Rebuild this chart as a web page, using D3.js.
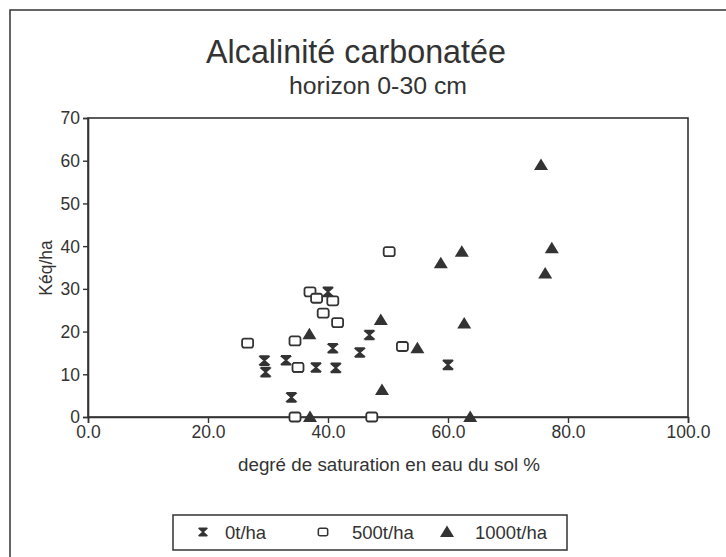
<!DOCTYPE html>
<html>
<head>
<meta charset="utf-8">
<script src="https://cdn.jsdelivr.net/npm/d3@7"></script>
<style>
  html, body { margin: 0; padding: 0; background: #fff; }
  svg { display: block; }
  text { font-family: "Liberation Sans", Arial, Helvetica, sans-serif; fill: #333; }
</style>
</head>
<body>
<svg id="chart" width="726" height="557"></svg>
<script>
// Degree of water saturation (%) and carbonate alkalinity (Kéq/ha), per treatment
const series0X = [29.4, 29.6, 33.0, 33.9, 35.0, 38.0, 40.0, 40.8, 41.3, 45.3, 46.9, 60.0];
const series0Y = [13.2, 10.5, 13.3, 4.6, 11.6, 11.6, 29.3, 16.1, 11.5, 15.1, 19.2, 12.2];

const series500X = [26.6, 34.5, 35.0, 34.5, 37.0, 38.1, 39.2, 40.8, 41.6, 47.3, 50.2, 52.4];
const series500Y = [17.3, 17.8, 11.6, 0.0, 29.3, 27.8, 24.3, 27.2, 22.1, 0.0, 38.7, 16.5];

const series1000X = [36.9, 37.0, 48.8, 49.0, 54.9, 58.8, 62.3, 62.7, 63.7, 75.5, 76.2, 77.3];
const series1000Y = [19.4, 0.0, 22.7, 6.3, 16.1, 36.0, 38.7, 21.9, 0.0, 59.0, 33.6, 39.5];

const seriesNames = ["0t/ha", "500t/ha", "1000t/ha"];
const xTicks = [0, 20, 40, 60, 80, 100];
const yTicks = [0, 10, 20, 30, 40, 50, 60, 70];

const ink = "#333";
const svg = d3.select("#chart");

// outer frame (left and top edges)
svg.append("path")
  .attr("d", "M10,557 L10,10 L726,10")
  .attr("fill", "none").attr("stroke", ink).attr("stroke-width", 1.5);

// titles
svg.append("text").attr("x", 356).attr("y", 63).attr("text-anchor", "middle")
  .attr("font-size", 34).attr("textLength", 300).attr("lengthAdjust", "spacingAndGlyphs")
  .text("Alcalinité carbonatée");
svg.append("text").attr("x", 378).attr("y", 94).attr("text-anchor", "middle")
  .attr("font-size", 23).attr("textLength", 178).attr("lengthAdjust", "spacingAndGlyphs")
  .text("horizon 0-30 cm");

// scales
const x = d3.scaleLinear().domain([0, 100]).range([88, 688]);
const y = d3.scaleLinear().domain([0, 70]).range([417, 118]);

// plot frame
svg.append("rect")
  .attr("x", x(0)).attr("y", y(70))
  .attr("width", x(100) - x(0)).attr("height", y(0) - y(70))
  .attr("fill", "none").attr("stroke", ink).attr("stroke-width", 1.6);

// axes
const xAxis = svg.append("g").attr("transform", `translate(0,${y(0)})`)
  .call(d3.axisBottom(x).tickValues(xTicks).tickFormat(d3.format(".1f")).tickSize(6).tickPadding(3));
const yAxis = svg.append("g").attr("transform", `translate(${x(0)},0)`)
  .call(d3.axisLeft(y).tickValues(yTicks).tickFormat(d3.format("d")).tickSize(5).tickPadding(3));
[xAxis, yAxis].forEach(g => {
  g.select(".domain").attr("stroke", ink).attr("stroke-width", 1.6);
  g.selectAll(".tick line").attr("stroke", ink).attr("stroke-width", 1.4);
  g.selectAll(".tick text").attr("fill", ink).attr("font-size", 17.5)
    .attr("font-family", "Liberation Sans, Arial, sans-serif");
});
yAxis.selectAll(".tick text").attr("dy", "0.34em");

// axis titles
svg.append("text").attr("x", 389).attr("y", 471).attr("text-anchor", "middle")
  .attr("font-size", 17.5).attr("textLength", 302).attr("lengthAdjust", "spacingAndGlyphs")
  .text("degré de saturation en eau du sol %");
svg.append("text").attr("transform", "translate(52,268) rotate(-90)").attr("text-anchor", "middle")
  .attr("font-size", 17.5).text("Kéq/ha");

// marker shapes
function hourglass(g) {
  g.append("path")
    .attr("d", "M-5,-4.5 L5,-4.5 M-5,4.5 L5,4.5 M-4,-3.5 L4,-3.5 L0,0 Z M-4,3.5 L4,3.5 L0,0 Z")
    .attr("fill", ink).attr("stroke", ink).attr("stroke-width", 1.6);
}
function square(g) {
  g.append("rect").attr("x", -5.5).attr("y", -4.5).attr("width", 11).attr("height", 9)
    .attr("rx", 2).attr("fill", "#fff").attr("stroke", ink).attr("stroke-width", 1.8);
}
function triangle(g) {
  g.append("path").attr("d", "M0,-6.5 L7,5 L-7,5 Z").attr("fill", ink);
}
const drawers = [hourglass, square, triangle];

const seriesData = [
  d3.zip(series0X, series0Y),
  d3.zip(series500X, series500Y),
  d3.zip(series1000X, series1000Y)
];

seriesData.forEach((pts, i) => {
  svg.append("g").selectAll("g").data(pts).join("g")
    .attr("transform", d => `translate(${x(d[0])},${y(d[1])})`)
    .each(function () { drawers[i](d3.select(this)); });
});

// legend
const legend = svg.append("g");
legend.append("rect").attr("x", 173).attr("y", 515).attr("width", 394).attr("height", 35)
  .attr("fill", "none").attr("stroke", ink).attr("stroke-width", 1.5);
const legendMarkX = [203, 323, 447];
const legendTextX = [225, 352, 475];
const legendScale = [0.85, 0.85, 1];
seriesNames.forEach((name, i) => {
  const g = legend.append("g")
    .attr("transform", `translate(${legendMarkX[i]},532) scale(${legendScale[i]})`);
  drawers[i](g);
  legend.append("text").attr("x", legendTextX[i]).attr("y", 539).attr("font-size", 18.5).text(name);
});
</script>
</body>
</html>
